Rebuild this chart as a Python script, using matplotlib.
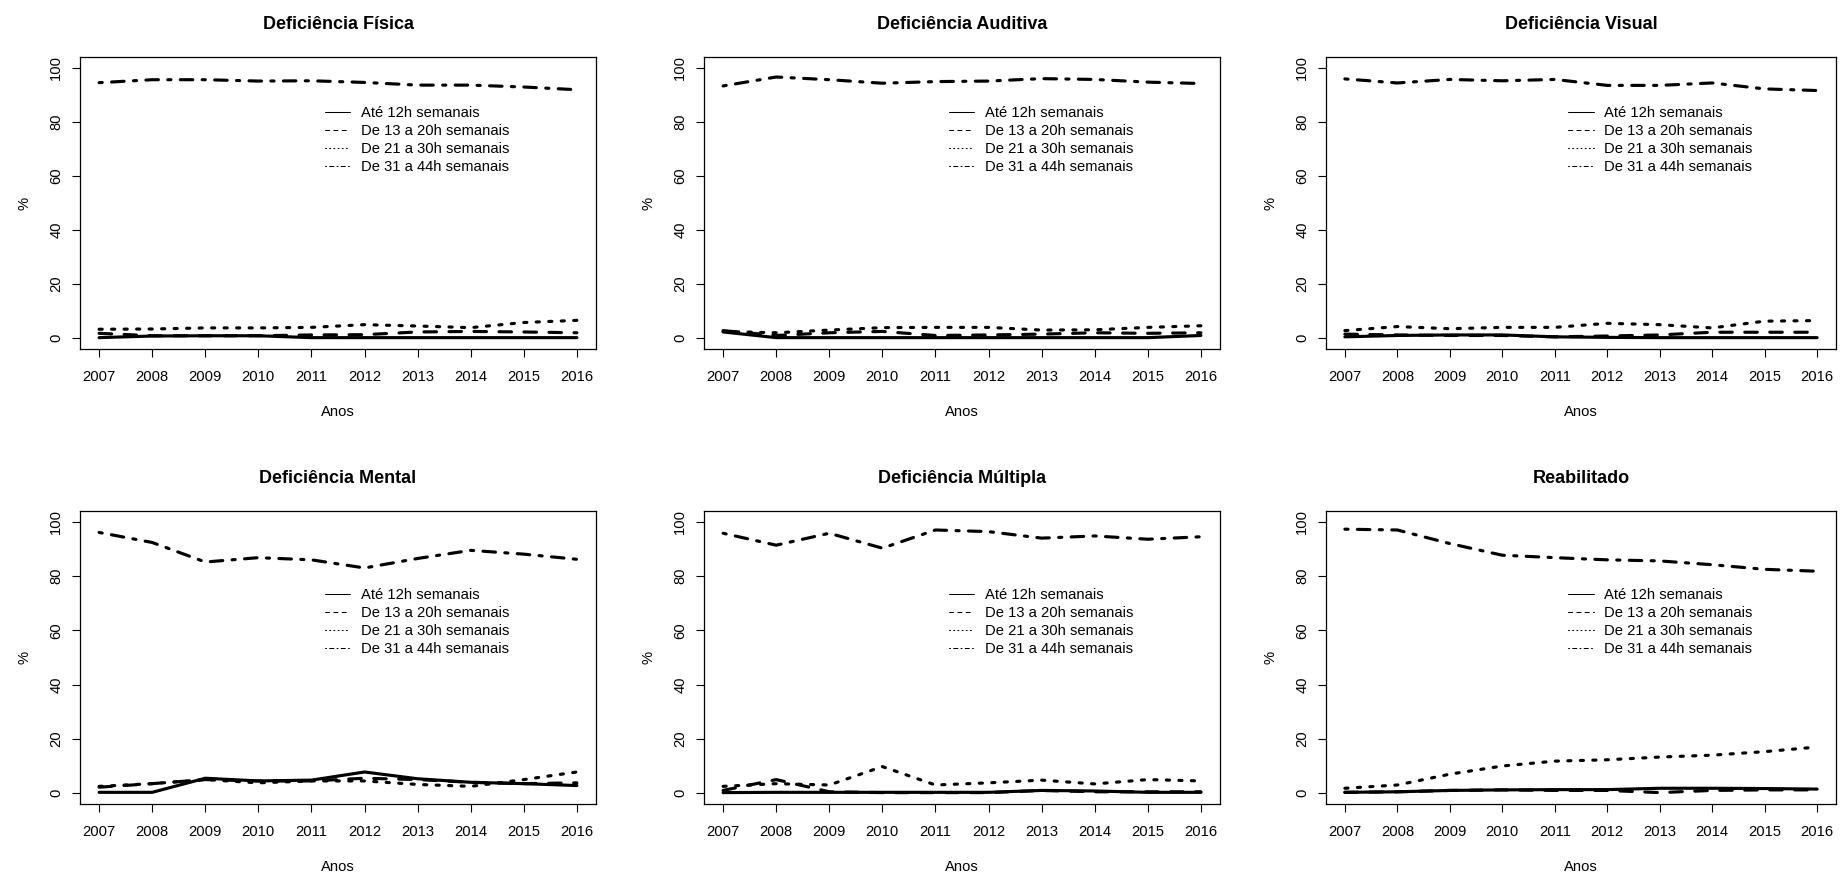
import matplotlib
matplotlib.use("Agg")
import matplotlib.pyplot as plt
import numpy as np

plt.rcParams['font.family'] = ['Liberation Sans', 'DejaVu Sans']

anos = [2007, 2008, 2009, 2010, 2011, 2012, 2013, 2014, 2015, 2016]

series_labels = ["Até 12h semanais", "De 13 a 20h semanais",
                 "De 21 a 30h semanais", "De 31 a 44h semanais"]

titulos = ["Deficiência Física", "Deficiência Auditiva", "Deficiência Visual",
           "Deficiência Mental", "Deficiência Múltipla", "Reabilitado"]

# % de vínculos por faixa de horas semanais, um vetor por faixa
fisica_ate12 = [0.2, 0.8, 0.9, 0.9, 0.2, 0.2, 0.2, 0.2, 0.2, 0.2]
fisica_13a20 = [1.8, 0.9, 0.9, 0.9, 1.2, 1.3, 2.3, 2.5, 2.3, 2.0]
fisica_21a30 = [3.3, 3.4, 3.8, 3.8, 4.0, 5.0, 4.5, 3.9, 5.8, 6.6]
fisica_31a44 = [94.5, 95.6, 95.6, 95.1, 95.2, 94.6, 93.6, 93.6, 92.9, 91.9]

auditiva_ate12 = [2.3, 0.2, 0.2, 0.2, 0.2, 0.2, 0.2, 0.2, 0.2, 1.0]
auditiva_13a20 = [2.8, 1.0, 2.0, 2.5, 1.0, 1.2, 1.5, 2.0, 1.8, 2.0]
auditiva_21a30 = [2.5, 2.0, 3.0, 3.9, 4.0, 4.0, 3.0, 3.1, 4.0, 4.6]
auditiva_31a44 = [93.3, 96.6, 95.6, 94.3, 94.9, 95.1, 96.0, 95.7, 94.7, 94.2]

visual_ate12 = [0.5, 1.0, 1.2, 1.2, 0.5, 0.3, 0.2, 0.2, 0.2, 0.2]
visual_13a20 = [1.5, 1.2, 1.0, 1.0, 0.5, 0.8, 1.2, 2.2, 2.2, 2.2]
visual_21a30 = [2.8, 4.3, 3.5, 4.0, 4.0, 5.5, 5.0, 3.8, 6.3, 6.5]
visual_31a44 = [95.9, 94.4, 95.7, 95.2, 95.7, 93.5, 93.5, 94.4, 92.2, 91.6]

mental_ate12 = [0.3, 0.3, 5.5, 4.5, 4.8, 7.8, 5.3, 4.0, 3.5, 2.8]
mental_13a20 = [2.2, 3.5, 5.0, 4.5, 4.5, 5.5, 5.0, 4.0, 3.5, 3.8]
mental_21a30 = [2.5, 3.5, 5.0, 3.8, 4.5, 4.5, 3.2, 2.5, 5.0, 7.8]
mental_31a44 = [96.1, 92.4, 85.2, 86.8, 86.0, 83.0, 86.5, 89.5, 88.1, 86.2]

multipla_ate12 = [0.2, 0.3, 0.3, 0.3, 0.3, 0.3, 1.0, 0.8, 0.3, 0.3]
multipla_13a20 = [1.0, 5.0, 0.5, 0.2, 0.2, 0.2, 1.0, 0.5, 0.5, 0.5]
multipla_21a30 = [2.5, 3.5, 3.0, 9.8, 3.0, 3.8, 4.8, 3.4, 5.0, 4.5]
multipla_31a44 = [95.8, 91.4, 95.8, 90.3, 97.0, 96.4, 94.0, 94.8, 93.6, 94.5]

reab_ate12 = [0.3, 0.5, 1.0, 1.2, 1.3, 1.3, 1.8, 1.8, 1.7, 1.5]
reab_13a20 = [0.3, 0.5, 1.0, 1.2, 1.0, 1.0, 0.2, 1.0, 1.2, 1.2]
reab_21a30 = [1.8, 3.0, 7.0, 10.0, 11.8, 12.3, 13.3, 14.0, 15.3, 17.0]
reab_31a44 = [97.3, 97.0, 92.0, 87.7, 86.8, 86.0, 85.6, 84.2, 82.5, 81.8]

dados = [
    [fisica_ate12, fisica_13a20, fisica_21a30, fisica_31a44],
    [auditiva_ate12, auditiva_13a20, auditiva_21a30, auditiva_31a44],
    [visual_ate12, visual_13a20, visual_21a30, visual_31a44],
    [mental_ate12, mental_13a20, mental_21a30, mental_31a44],
    [multipla_ate12, multipla_13a20, multipla_21a30, multipla_31a44],
    [reab_ate12, reab_13a20, reab_21a30, reab_31a44],
]

# tipos de linha no estilo do R: solid, dashed, dotted, dotdash
estilos = ['-', (0, (4, 4)), (0, (1, 3)), (0, (1, 3, 4, 3))]

W, H = 1842, 876
fig = plt.figure(figsize=(W / 100, H / 100), dpi=100)

lefts = [80, 704, 1326]
widths = [516, 516, 510]
rows = [(57, 349), (511, 804)]
leg_y = [0.832, 0.737]

fs = 10.6
for k in range(6):
    r, c = divmod(k, 3)
    top, bot = rows[r]
    ax = fig.add_axes([lefts[c] / W, (H - bot) / H, widths[c] / W, (bot - top) / H])
    for serie, ls, lab in zip(dados[k], estilos, series_labels):
        ax.plot(anos, serie, color='black', lw=2.25, linestyle=ls, label=lab,
                dash_capstyle='round', solid_capstyle='round')
    ax.set_xlim(2006.64, 2016.36)
    ax.set_ylim(-4, 104)
    ax.set_xticks(anos)
    ax.set_yticks([0, 20, 40, 60, 80, 100])
    ax.tick_params(length=6, width=0.8, labelsize=fs)
    ax.tick_params(axis='x', pad=9)
    ax.tick_params(axis='y', pad=6)
    for lbl in ax.get_yticklabels():
        lbl.set_rotation(90)
        lbl.set_va('center')
    for sp in ax.spines.values():
        sp.set_linewidth(0.9)
    ax.set_title(titulos[k], fontsize=13, fontweight='bold', pad=20)
    ax.set_xlabel("Anos", fontsize=fs, labelpad=15.5)
    ax.set_ylabel("%", fontsize=fs, labelpad=13)
    leg = ax.legend(loc='upper left', bbox_to_anchor=(0.474, leg_y[r]), frameon=False,
                    fontsize=fs, handlelength=1.75, handletextpad=0.7,
                    labelspacing=0.27, borderpad=0, borderaxespad=0)
    for h in leg.get_lines():
        h.set_linewidth(0.75)

fig.savefig("out.png", dpi=100)
